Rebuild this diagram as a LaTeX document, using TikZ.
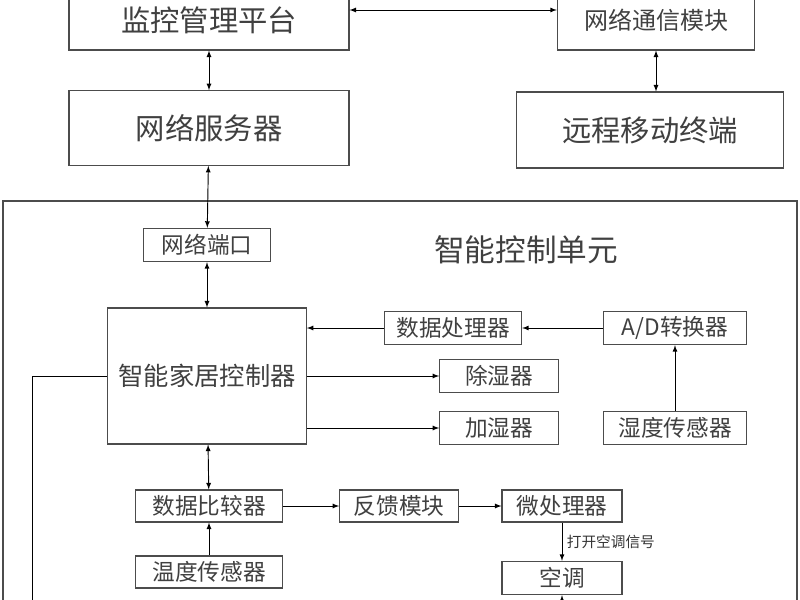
\documentclass[tikz,border=0pt]{standalone}
\usepackage{fontspec}
\newfontfamily\cjk{Noto Sans CJK SC}
\usetikzlibrary{arrows}
\tikzstyle{blk}=[rectangle, draw=black!70, line width=0.8pt, align=center, inner sep=0pt]
\begin{document}
\begin{tikzpicture}[x=0.75pt,y=-0.75pt,>=latex,line width=0.7pt,font=\cjk]
  \tikzstyle{big}=[blk,font=\cjk\fontsize{22}{24}\selectfont,text=black!75]
  \tikzstyle{small}=[blk,font=\cjk\fontsize{17}{19}\selectfont,text=black!75]
  \useasboundingbox (0,0) rectangle (800,600);
  % top row
  \node[big, minimum width=210pt, minimum height=45pt] (platform) at (209,20) {监控管理平台};
  \node[big, minimum width=148pt, minimum height=45pt, font=\cjk\fontsize{18}{20}\selectfont] (netcomm) at (656,20) {网络通信模块};
  \node[big, minimum width=210pt, minimum height=56pt] (server) at (209,128) {网络服务器};
  \node[big, minimum width=200pt, minimum height=57pt] (mobile) at (650,130) {远程移动终端};
  \draw [<->] (platform.east |- 0,10) -- (netcomm.west |- 0,10);
  \draw [<->] (platform) -- (server);
  \draw [<->] (netcomm.south) -- (netcomm.south |- mobile.north);
  % control unit
  \draw [line width=0.8pt, draw=black!70] (3,201) rectangle (797,615);
  \node[font=\cjk\fontsize{23}{25}\selectfont, text=black!75] (unitlabel) at (526,250) {智能控制单元};
  \node[small, minimum width=95pt, minimum height=25pt] (port) at (207,245) {网络端口};
  \node[small, minimum width=149pt, minimum height=102pt, font=\cjk\fontsize{19}{21}\selectfont] (ctrl) at (207,376) {智能家居控制器};
  \node[small, minimum width=103pt, minimum height=25pt] (proc) at (453,328) {数据处理器};
  \node[small, minimum width=107pt, minimum height=25pt] (adc) at (675,328) {A/D转换器};
  \node[small, minimum width=89pt, minimum height=25pt] (dehum) at (499,376) {除湿器};
  \node[small, minimum width=89pt, minimum height=25pt] (hum) at (499,428) {加湿器};
  \node[small, minimum width=107pt, minimum height=25pt] (hsensor) at (675,428) {湿度传感器};
  \node[small, minimum width=110pt, minimum height=24pt] (cmp) at (209,506) {数据比较器};
  \node[small, minimum width=89pt, minimum height=24pt] (feedback) at (399,506) {反馈模块};
  \node[small, minimum width=90pt, minimum height=24pt] (mcu) at (562,506) {微处理器};
  \node[small, minimum width=110pt, minimum height=24pt] (tsensor) at (209,572) {温度传感器};
  \node[small, minimum width=90pt, minimum height=25pt] (ac) at (562,578) {空调};
  \coordinate (acbottom) at (562,600);
  \coordinate (leftturn) at (32,376);
  \coordinate (leftend) at (32,600);
  \draw [<->] (server) -- (port);
  \draw [<->] (port) -- (ctrl);
  \draw [->] (proc.west) -- (ctrl.east |- proc.west);
  \draw [->] (adc) -- (proc);
  \draw [->] (hsensor) -- (adc);
  \draw [->] (ctrl.east |- dehum.west) -- (dehum);
  \draw [->] (ctrl.east |- hum.west) -- (hum);
  \draw [<->] (ctrl) -- (cmp);
  \draw [->] (tsensor) -- (cmp);
  \draw [->] (cmp) -- (feedback);
  \draw [->] (feedback) -- (mcu);
  \draw [->] (mcu) -- (ac) node[right,midway,font=\cjk\fontsize{11}{12}\selectfont,text=black!80] {打开空调信号};
  \draw [->] (acbottom) -- (ac);
  \draw (ctrl.west) -- (leftturn) -- (leftend);
\end{tikzpicture}
\end{document}
